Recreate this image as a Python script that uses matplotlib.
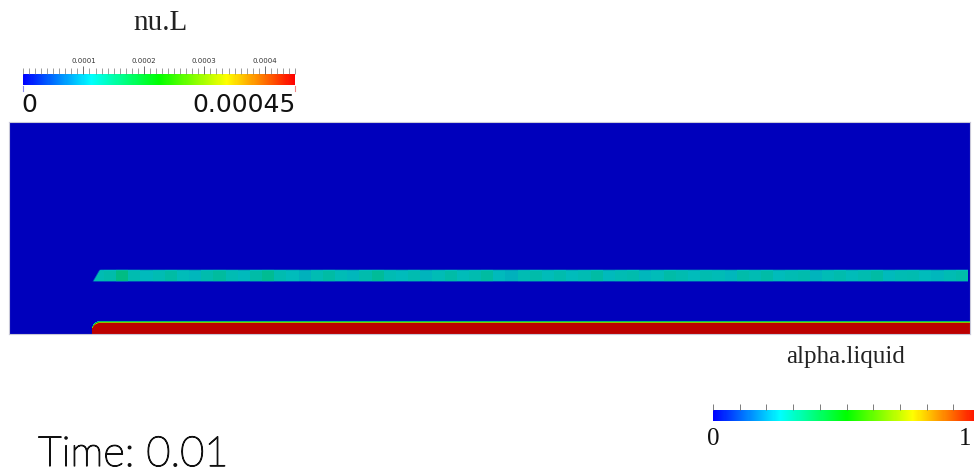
import numpy as np
import matplotlib
matplotlib.use("Agg")
import matplotlib.pyplot as plt
import matplotlib.patheffects as pe
from matplotlib import colors
from matplotlib.cm import ScalarMappable
from matplotlib.lines import Line2D

# channel geometry, in units of the channel height
length = 4.53
height = 1.0
plate_start = 0.39
film_top = 0.057
corner_r = 0.04
stripe_lo, stripe_hi = 0.245, 0.306
stripe_slant = 0.035

nu_max = 0.00045
sim_time = 0.01

# nu.L in the shear layer, one value per segment from the plate edge to the outlet
stripe_nu = [
    0.000118, 0.000124, 0.000146, 0.000121, 0.000112, 0.000119, 0.000127, 0.000116,
    0.000109, 0.000122, 0.000131, 0.000118, 0.000111, 0.000125, 0.000138, 0.000120,
    0.000114, 0.000106, 0.000119, 0.000128, 0.000117, 0.000110, 0.000123, 0.000134,
    0.000119, 0.000113, 0.000121, 0.000108, 0.000117, 0.000126, 0.000115, 0.000120,
    0.000129, 0.000112, 0.000107, 0.000118, 0.000124, 0.000116, 0.000122, 0.000113,
    0.000119, 0.000127, 0.000111, 0.000118, 0.000123, 0.000109, 0.000116, 0.000125,
    0.000120, 0.000114, 0.000121, 0.000117, 0.000110, 0.000124, 0.000118, 0.000126,
    0.000113, 0.000119, 0.000122, 0.000108, 0.000117, 0.000123, 0.000115, 0.000120,
    0.000127, 0.000112, 0.000118, 0.000121, 0.000114, 0.000109, 0.000119, 0.000124,
]
nu_ticks = [0.0001, 0.0002, 0.0003, 0.0004]


def rainbow():
    # blue -> red through hue, like the ParaView default
    t = np.linspace(0, 1, 256)
    hsv = np.stack([(2.0 / 3.0) * (1 - t), np.ones_like(t), np.ones_like(t)], axis=1)
    return colors.ListedColormap(colors.hsv_to_rgb(hsv))


cmap = rainbow()

nx, ny = 961, 212
x = (np.arange(nx) + 0.5) / nx * length
y = (np.arange(ny) + 0.5) / ny * height
X, Y = np.meshgrid(x, y)
px = height / ny

# liquid film on the plate, rounded at the leading edge
h = np.zeros_like(x)
on = x >= plate_start
h[on] = film_top
cr = on & (x < plate_start + corner_r)
dx = plate_start + corner_r - x[cr]
h[cr] = (film_top - corner_r) + np.sqrt(np.clip(corner_r**2 - dx**2, 0, None))
alpha = np.clip((h[None, :] - Y) / (3 * px) + 0.5, 0, 1)
alpha[:, ~on] = 0

# shear layer above the film
seg = np.linspace(plate_start, length - 0.01, len(stripe_nu) + 1)
idx = np.clip(np.searchsorted(seg, x) - 1, 0, len(stripe_nu) - 1)
layer = np.array(stripe_nu)[idx][None, :] * np.ones_like(Y)
front = plate_start + stripe_slant * (Y - stripe_lo) / (stripe_hi - stripe_lo)
edge = np.clip((Y - stripe_lo) / (1.5 * px), 0, 1) * np.clip((stripe_hi - Y) / (1.5 * px), 0, 1)
edge *= np.clip((X - front) / (2 * px), 0, 1) * (X < length - 0.01)
nu = layer * edge

rgb = cmap(nu / nu_max)[..., :3]
liquid = alpha > 0.1
rgb[liquid] = cmap(alpha[liquid])[..., :3]
rgb *= 0.74

fig = plt.figure(figsize=(9.74, 4.74), dpi=100)
W, H = 974.0, 474.0


def box(l, t, r, b):
    return [l / W, 1 - b / H, (r - l) / W, (b - t) / H]


ax = fig.add_axes(box(9, 122, 970, 334))
ax.imshow(rgb, origin="lower", extent=[0, length, 0, height], aspect="auto",
          interpolation="bilinear")
ax.set_xticks([])
ax.set_yticks([])
for s in ax.spines.values():
    s.set_color("#c8c8d8")
    s.set_linewidth(0.8)

# nu.L colour bar
cax = fig.add_axes(box(23, 74, 295, 85))
cb = fig.colorbar(ScalarMappable(colors.Normalize(0, nu_max), cmap), cax=cax,
                  orientation="horizontal")
cb.outline.set_visible(False)
cax.xaxis.set_ticks_position("top")
cb.set_ticks(nu_ticks)
cb.set_ticklabels(["%g" % v for v in nu_ticks])
cax.set_xticks(np.arange(0, nu_max + 1e-9, 0.00001), minor=True)
cax.tick_params(which="major", length=6, width=0.6, color="#555555", labelsize=5,
                pad=1, labelcolor="#333333")
cax.tick_params(which="minor", length=4, width=0.5, color="#777777")
fig.add_artist(Line2D([23 / W, 23 / W], [1 - 86 / H, 1 - 91 / H], color="#8888ee", lw=0.8))
fig.add_artist(Line2D([295 / W, 295 / W], [1 - 86 / H, 1 - 91 / H], color="#ee8888", lw=0.8))
fig.text(160 / W, 1 - 30 / H, "nu.L", ha="center", va="baseline", fontsize=21,
         family="Liberation Serif", color="#222222")
fig.text(21 / W, 1 - 112 / H, "0", ha="left", va="baseline", fontsize=18,
         family="DejaVu Sans", color="#111111")
fig.text(296 / W, 1 - 112 / H, "0.00045", ha="right", va="baseline", fontsize=18,
         family="DejaVu Sans", color="#111111")

# alpha.liquid colour bar, runs off the right edge
aax = fig.add_axes(box(713, 410, 980, 421))
ab = fig.colorbar(ScalarMappable(colors.Normalize(0, 1), cmap), cax=aax,
                  orientation="horizontal")
ab.outline.set_visible(False)
aax.xaxis.set_ticks_position("top")
ab.set_ticks(np.linspace(0, 1, 11))
aax.set_xticklabels([])
aax.tick_params(length=4, width=0.6, color="#666666")
fig.text(846 / W, 1 - 363 / H, "alpha.liquid", ha="center", va="baseline", fontsize=18,
         family="Liberation Serif", color="#222222")
fig.text(713 / W, 1 - 445 / H, "0", ha="center", va="baseline", fontsize=18,
         family="Liberation Serif", color="#111111")
fig.text(965 / W, 1 - 445 / H, "1", ha="center", va="baseline", fontsize=18,
         family="Liberation Serif", color="#111111")

fig.text(38 / W, 1 - 466 / H, "Time: %g" % sim_time, ha="left", va="baseline",
         fontsize=30, family="Lato", weight="light", color="#111111",
         path_effects=[pe.withStroke(linewidth=0.9, foreground="#111111")])

fig.savefig("out.png", dpi=100)
